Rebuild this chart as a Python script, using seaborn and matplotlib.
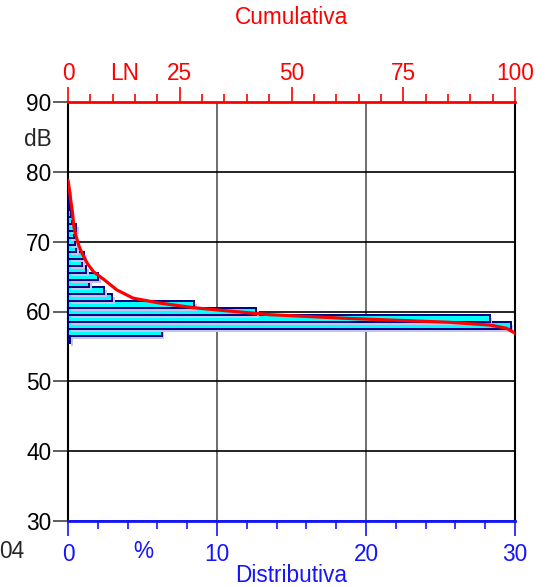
import pandas as pd
import seaborn as sns
import matplotlib.pyplot as plt
import matplotlib.patheffects as pe
from matplotlib.ticker import MultipleLocator

sns.set_theme(style="white")
plt.rcParams['font.family'] = ['Liberation Sans', 'DejaVu Sans']

# distributive (1 dB classes, % of time)
levels = [77, 76, 75, 74, 73, 72, 71, 70, 69, 68, 67, 66, 65, 64, 63, 62, 61, 60, 59, 58, 57, 56]
distrib = [0.05, 0.08, 0.12, 0.2, 0.25, 0.54, 0.4, 0.47, 0.54, 1.07, 0.96, 1.19,
           2.04, 1.41, 2.42, 2.97, 8.46, 12.6, 28.3, 29.7, 6.29, 0.13]

# cumulative curve (LN, % exceeded vs dB)
cum_pct = [0, 0.3, 0.7, 1.0, 1.3, 1.7, 2.5, 3.1, 4.3, 5.7, 8.0, 10.9, 14.6, 20.6,
           28, 35.5, 45, 63, 85.5, 94.4, 98.1, 100]
cum_db = [78.8, 77.5, 75.5, 74.2, 72.2, 71.0, 69.3, 68.4, 66.9, 65.7, 64.6, 63.1, 61.9, 61.2,
          60.55, 60.1, 59.55, 59.0, 58.45, 58.06, 57.6, 56.9]

df = pd.DataFrame({'level': levels, 'pct': distrib})
FS = 16.3
BLUE = '#1414ff'
RED = '#ff0000'

fig = plt.figure(figsize=(5.55, 5.87), dpi=100)
ax = fig.add_axes([68 / 555, 1 - 521 / 587, 447 / 555, 419 / 587])

sns.histplot(data=df, y='level', weights='pct', binwidth=1,
             binrange=(min(levels) - 0.5, max(levels) + 0.5),
             color='#00ffff', edgecolor='#000080', linewidth=1.4, alpha=1, ax=ax, zorder=3)
for p in ax.patches:
    p.set_path_effects([pe.SimplePatchShadow(offset=(2, -2), shadow_rgbFace='#c4c4ee', alpha=1),
                        pe.Normal()])

ax.set_xlim(0, 30)
ax.set_ylim(30, 90)
ax.set_xticks([0, 10, 20, 30])
ax.xaxis.set_minor_locator(MultipleLocator(2))
ax.set_yticks(range(30, 91, 10))
ax.grid(True, color='black', linewidth=1.2)
ax.grid(True, axis='x', color='#555555', linewidth=1.2)
ax.set_axisbelow(True)
ax.tick_params(axis='x', which='major', direction='out', length=11, width=1.2,
               colors=BLUE, labelsize=FS, pad=5)
ax.tick_params(axis='x', which='minor', direction='out', length=5.5, width=1.2,
               colors=BLUE, bottom=True)
ax.tick_params(axis='y', direction='out', length=11, width=1.1, color='#333333',
               labelcolor='black', labelsize=FS, pad=1, left=True)
ax.set_xlabel('')
ax.set_ylabel('')
for s in ['left', 'right']:
    ax.spines[s].set_color('black')
    ax.spines[s].set_linewidth(1.5)
ax.spines['bottom'].set_color(BLUE)
ax.spines['bottom'].set_linewidth(2)
ax.spines['top'].set_visible(False)

ax2 = ax.twiny()
sns.lineplot(x=cum_pct, y=cum_db, sort=False, estimator=None, color=RED,
             linewidth=2.3, ax=ax2, zorder=5)
ax2.set_xlim(0, 100)
ax2.set_ylim(30, 90)
ax2.set_xticks([0, 25, 50, 75, 100])
ax2.xaxis.set_minor_locator(MultipleLocator(5))
ax2.tick_params(axis='x', which='major', direction='out', length=11, width=1.2,
                colors=RED, labelsize=FS, pad=1.5)
ax2.tick_params(axis='x', which='minor', direction='out', length=5.5, width=1.2,
                colors=RED, top=True)
ax2.set_xlabel('')
for s in ['left', 'right', 'bottom']:
    ax2.spines[s].set_visible(False)
ax2.spines['top'].set_color(RED)
ax2.spines['top'].set_linewidth(2)

fig.text(292 / 555, 1 - 18 / 587, 'Cumulativa', color=RED, fontsize=FS, ha='center', va='center')
fig.text(125 / 555, 1 - 74 / 587, 'LN', color=RED, fontsize=FS, ha='center', va='center')
fig.text(291 / 555, 1 - 575 / 587, 'Distributiva', color=BLUE, fontsize=FS, ha='center', va='center')
fig.text(143 / 555, 1 - 551 / 587, '%', color=BLUE, fontsize=FS, ha='center', va='center')
fig.text(38 / 555, 1 - 139 / 587, 'dB', fontsize=FS, ha='center', va='center')
fig.text(24 / 555, 1 - 551 / 587, '04', fontsize=FS, ha='right', va='center')

fig.savefig('out.png', dpi=100)
